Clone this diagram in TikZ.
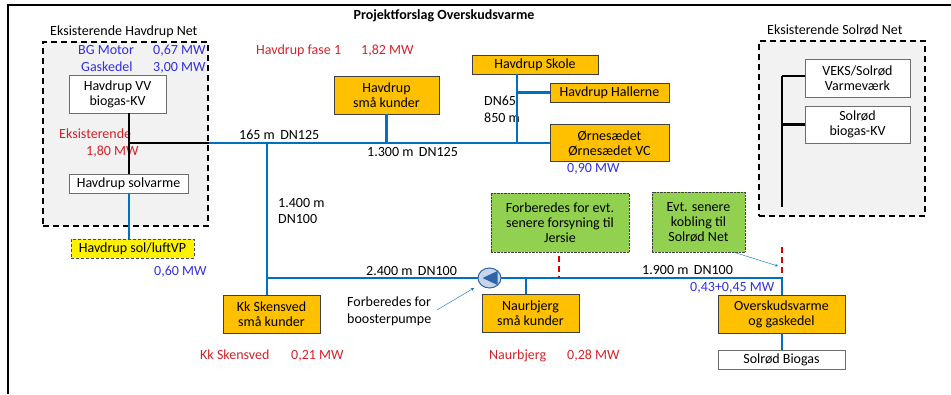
\documentclass[tikz,border=0pt]{standalone}
\usepackage{fontspec}
\setmainfont{Carlito}
\usetikzlibrary{positioning, calc, shapes.geometric}

\definecolor{pipeblue}{RGB}{0,112,192}
\definecolor{orangebox}{RGB}{255,192,0}
\definecolor{greenbox}{RGB}{146,208,80}
\definecolor{grpfill}{RGB}{242,242,242}
\definecolor{boxgray}{RGB}{110,110,110}
\definecolor{mwred}{RGB}{210,35,40}
\definecolor{mwblue}{RGB}{48,48,225}
\definecolor{pumpfill}{RGB}{200,214,234}
\definecolor{pumpdark}{RGB}{46,100,170}

\begin{document}
\begin{tikzpicture}[x=1pt, y=-1pt,
    every node/.style={font=\fontsize{14}{15}\selectfont, inner sep=0pt},
    size/.style 2 args={minimum width=#1, minimum height=#2},
    wbox/.style={draw=boxgray, fill=white, align=center},
    obox/.style={draw=black!75, fill=orangebox, align=center},
    gbox/.style={draw=black!75, densely dotted, fill=greenbox, align=center},
    grp/.style={draw=black, line width=1.6pt, dash pattern=on 6pt off 4pt, fill=grpfill},
    pipe/.style={draw=pipeblue, line width=2.6pt},
    blk/.style={draw=black, line width=2.6pt},
    later/.style={draw=red!85!black, line width=2.6pt, dash pattern=on 6pt off 4pt},
    txt/.style={anchor=base west},
    red/.style={txt, text=mwred},
    blue/.style={txt, text=mwblue}]
\useasboundingbox (0,0) rectangle (951,394);
\draw[line width=1.2pt] (951,5)--(8,5)--(8,394);

\node[anchor=base] (title) at (444,19.5) {\bfseries Projektforslag Overskudsvarme};

% eksisterende net
\node[grp, size={165}{184}] (havnet) at (125.5,134) {};
\node[grp, size={166}{175}] (solnet) at (842,128.5) {};
\node[txt] (havnetlbl) at (50,35) {Eksisterende Havdrup Net};
\node[txt] (solnetlbl) at (767,34) {Eksisterende Solrød Net};

\node[wbox, size={97}{38}] (vv) at (117.5,94) {Havdrup VV\\biogas-KV};
\node[wbox, size={119}{19}] (solvarme) at (128.5,184) {Havdrup solvarme};
\node[draw=black!70, densely dashed, fill=yellow, size={123}{19}] (luftvp) at (132.5,248.5) {Havdrup sol/luftVP};
\node[wbox, size={105}{38}] (veks) at (857.5,78) {VEKS/Solrød\\Varmeværk};
\node[wbox, size={105}{37}] (solkv) at (857.5,124.5) {Solrød\\biogas-KV};

% forbrugere
\node[obox, size={105}{38}] (smaahav) at (386.5,95) {Havdrup\\små kunder};
\node[obox, size={126}{19}] (skole) at (535,64.5) {Havdrup Skole};
\node[obox, size={119}{19}] (hallerne) at (609.5,92.5) {Havdrup Hallerne};
\node[obox, size={119}{37}] (oernes) at (609.5,143) {Ørnesædet\\Ørnesædet VC};
\node[obox, size={97}{38}] (kk) at (271.5,314) {Kk Skensved\\små kunder};
\node[obox, size={97}{38}] (naur) at (530.5,313) {Naurbjerg\\små kunder};
\node[obox, size={127}{38}] (overskud) at (781.5,314) {Overskudsvarme\\og gaskedel};
\node[wbox, size={127}{19}] (biogas) at (781.5,359.5) {Solrød Biogas};

\node[gbox, size={138}{59}] (jersie) at (560,222.5) {Forberedes for evt.\\senere forsyning til\\Jersie};
\node[gbox, size={93}{60}] (evt) at (698.5,222) {Evt. senere\\kobling til\\Solrød Net};

% tekster
\node[blue] (bgmotor) at (78,54) {BG Motor};
\node[blue] (bgmw) at (153,54) {0,67 MW};
\node[blue] (gask) at (81,71) {Gaskedel};
\node[blue] (gaskmw) at (153,71) {3,00 MW};
\node[red] (eksist) at (59,138.5) {Eksisterende};
\node[red] (eksistmw) at (86,155) {1,80 MW};
\node[blue] (luftmw) at (154,275) {0,60 MW};
\node[red] (fase) at (256,54) {Havdrup fase 1};
\node[red] (fasemw) at (361,54) {1,82 MW};
\node[blue] (oernesmw) at (567,172) {0,90 MW};
\node[red] (kklbl) at (200,359) {Kk Skensved};
\node[red] (kkmw) at (291,359) {0,21 MW};
\node[red] (naurlbl) at (489,359) {Naurbjerg};
\node[red] (naurmw) at (567,359) {0,28 MW};
\node[blue] (overmw) at (690,291) {0,43+0,45 MW};

\node[txt] (l165) at (239,139) {165 m\, DN125};
\node[txt] (l1300) at (367,156) {1.300 m\, DN125};
\node[txt] (l1400) at (278,207) {1.400 m};
\node[txt] (l1400b) at (278,223) {DN100};
\node[txt] (l65) at (484,105) {DN65};
\node[txt] (l850) at (484,122) {850 m};
\node[txt] (l2400) at (366,275) {2.400 m\, DN100};
\node[txt] (l1900) at (642,274) {1.900 m\, DN100};
\node[anchor=north west, align=left, font=\fontsize{14}{16.5}\selectfont] (boost) at (347,297) {Forberedes for\\boosterpumpe};

% knudepunkter
\coordinate (j1) at (129,143);
\coordinate (j2) at (267,143);
\coordinate (j3) at (267,278);
\coordinate (j4) at (526,278);
\coordinate (j5) at (559,278);
\coordinate (j6) at (782,278);
\coordinate (sk) at (517,74);
\coordinate (s1) at (782,76);
\coordinate (s2) at (782,207);

% sort net
\draw[blk] (vv.south -| j1)--(j1 |- solvarme.north);
\draw[blk] (j1)--(havnet.east |- j1);
\draw[blk] (s1)--(s2);
\draw[blk] (s1)--(veks.west |- s1);
\draw[blk] (s1 |- solkv.west)--(solkv.west);

% fjernvarmeledninger
\draw[pipe] (j1 |- solvarme.south)--(j1 |- luftvp.north);
\draw[pipe] (havnet.east |- j1)--(oernes.west);
\draw[pipe] (smaahav.south)--(smaahav.south |- j1);
\draw[pipe] (sk)--(sk |- j1);
\draw[pipe] (sk |- hallerne.west)--(hallerne.west);
\draw[pipe] (j2)--(j2 |- kk.north);
\draw[pipe] (j3)--(j6)--(j6 |- overskud.north);
\draw[pipe] (j6 |- overskud.south)--(j6 |- biogas.north);
\draw[pipe] (j4)--(j4 |- naur.north);

\draw[later] ($(jersie.south -| j5)+(0,4)$)--(j5);
\draw[later] (782,247)--(j6);

% pumpe
\node[draw=pumpdark, line width=1pt, fill=pumpfill, ellipse, minimum width=23, minimum height=20] (pump) at (489.5,278) {};
\fill[pumpdark] ($(pump)+(-7,0)$)--($(pump)+(8,-7)$)--($(pump)+(8,7)$)--cycle;

\draw[->, >=stealth, pipeblue, thin] (437,310)--(474,288);
\draw[->, >=stealth, pipeblue, thin] (733,252)--(778,266);
\end{tikzpicture}
\end{document}
